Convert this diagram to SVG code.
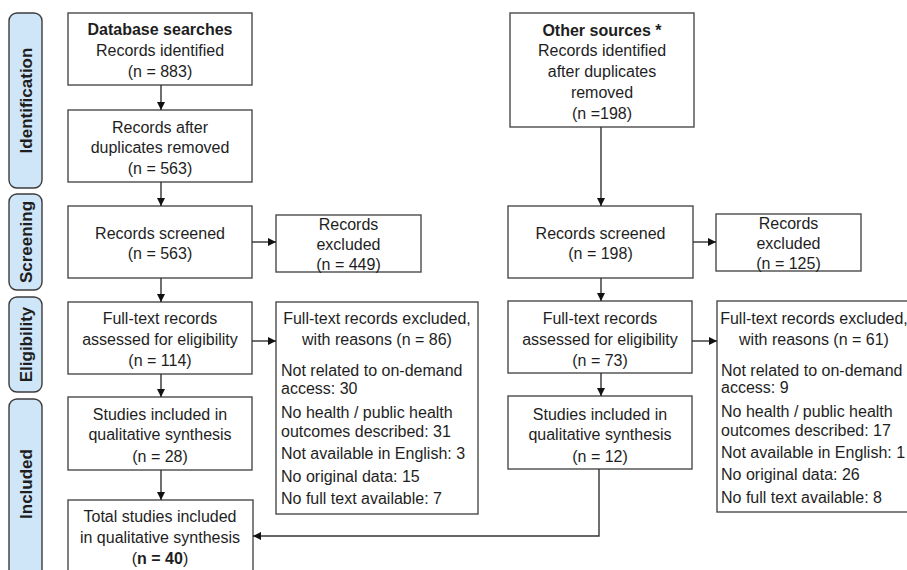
<svg xmlns="http://www.w3.org/2000/svg" width="907" height="570" viewBox="0 0 907 570">
<defs>
<style>
.bg{fill:#ffffff}
.box{fill:#ffffff;stroke:#4a4a4a;stroke-width:1.4}
.side{fill:#cfe5f8;stroke:#3c3c3c;stroke-width:1.4}
.t{font-family:"Liberation Sans",Arial,sans-serif;font-size:16px;fill:#1e1e1e;text-anchor:middle}
.l{font-family:"Liberation Sans",Arial,sans-serif;font-size:16px;fill:#1e1e1e;text-anchor:start}
.b{font-weight:bold}
.st{font-family:"Liberation Sans",Arial,sans-serif;font-size:17px;font-weight:bold;fill:#1e1e1e;text-anchor:middle}
.c{fill:none;stroke:#333;stroke-width:1.4}
</style>
<marker id="ah" viewBox="0 0 10 10" refX="10" refY="5" markerWidth="8" markerHeight="8" markerUnits="userSpaceOnUse" orient="auto">
<path d="M0,0 L10,5 L0,10 z" fill="#111"/>
</marker>
</defs>
<rect class="bg" x="0" y="0" width="907" height="570"/>

<g id="phase-identification"><rect class="side" x="9" y="13" width="33" height="175" rx="8"/><text class="st" transform="translate(32,100.5) rotate(-90)">Identification</text></g>
<g id="phase-screening"><rect class="side" x="9" y="194" width="33" height="96" rx="8"/><text class="st" transform="translate(32,242) rotate(-90)">Screening</text></g>
<g id="phase-eligibility"><rect class="side" x="9" y="297" width="33" height="95" rx="8"/><text class="st" transform="translate(32,344.5) rotate(-90)">Eligibility</text></g>
<g id="phase-included"><rect class="side" x="9" y="399" width="33" height="190" rx="8"/><text class="st" transform="translate(32,484) rotate(-90)">Included</text></g>

<g id="db-search"><rect class="box" x="68" y="13" width="184" height="72"/>
<text class="t b" x="160" y="35">Database searches</text><text class="t" x="160" y="56">Records identified</text><text class="t" x="160" y="77">(n = 883)</text></g>
<g id="db-dedup"><rect class="box" x="68" y="110" width="184" height="72"/>
<text class="t" x="160" y="133">Records after</text><text class="t" x="160" y="153">duplicates removed</text><text class="t" x="160" y="174">(n = 563)</text></g>
<g id="db-screened"><rect class="box" x="68" y="206" width="184" height="72"/>
<text class="t" x="160" y="239">Records screened</text><text class="t" x="160" y="259">(n = 563)</text></g>
<g id="db-excluded"><rect class="box" x="276" y="215" width="145" height="57"/>
<text class="t" x="348.5" y="230">Records</text><text class="t" x="348.5" y="250">excluded</text><text class="t" x="348.5" y="270">(n = 449)</text></g>
<g id="db-eligibility"><rect class="box" x="68" y="302" width="184" height="72"/>
<text class="t" x="160" y="324">Full-text records</text><text class="t" x="160" y="345">assessed for eligibility</text><text class="t" x="160" y="366">(n = 114)</text></g>
<g id="db-fulltext-excluded"><rect class="box" x="276" y="302" width="202" height="212"/>
<text class="t" x="377" y="324">Full-text records excluded,</text><text class="t" x="377" y="345">with reasons (n = 86)</text>
<text class="l" x="281" y="376">Not related to on-demand</text><text class="l" x="281" y="394">access: 30</text>
<text class="l" x="281" y="418">No health / public health</text><text class="l" x="281" y="437">outcomes described: 31</text>
<text class="l" x="281" y="459">Not available in English: 3</text><text class="l" x="281" y="482">No original data: 15</text><text class="l" x="281" y="504">No full text available: 7</text></g>
<g id="db-included"><rect class="box" x="68" y="397" width="184" height="73"/>
<text class="t" x="160" y="420">Studies included in</text><text class="t" x="160" y="440">qualitative synthesis</text><text class="t" x="160" y="462">(n = 28)</text></g>
<g id="total-included"><rect class="box" x="68" y="500" width="185" height="90"/>
<text class="t" x="160" y="522">Total studies included</text><text class="t" x="160" y="543">in qualitative synthesis</text><text class="t" x="160" y="564">(<tspan class="b">n = 40</tspan>)</text></g>

<g id="other-sources"><rect class="box" x="510" y="13" width="184" height="114"/>
<text class="t b" x="602" y="36">Other sources *</text><text class="t" x="602" y="56">Records identified</text><text class="t" x="602" y="77">after duplicates</text><text class="t" x="602" y="98">removed</text><text class="t" x="602" y="119">(n =198)</text></g>
<g id="os-screened"><rect class="box" x="508" y="206" width="185" height="72"/>
<text class="t" x="600.5" y="239">Records screened</text><text class="t" x="600.5" y="259">(n = 198)</text></g>
<g id="os-excluded"><rect class="box" x="716" y="214" width="145" height="57"/>
<text class="t" x="788.5" y="229">Records</text><text class="t" x="788.5" y="249">excluded</text><text class="t" x="788.5" y="269">(n = 125)</text></g>
<g id="os-eligibility"><rect class="box" x="508" y="301" width="184" height="72"/>
<text class="t" x="600" y="324">Full-text records</text><text class="t" x="600" y="345">assessed for eligibility</text><text class="t" x="600" y="366">(n = 73)</text></g>
<g id="os-fulltext-excluded"><rect class="box" x="717" y="301" width="196" height="211"/>
<text class="t" x="814" y="324">Full-text records excluded,</text><text class="t" x="814" y="345">with reasons (n = 61)</text>
<text class="l" x="721" y="376">Not related to on-demand</text><text class="l" x="721" y="393">access: 9</text>
<text class="l" x="721" y="417">No health / public health</text><text class="l" x="721" y="436">outcomes described: 17</text>
<text class="l" x="721" y="458">Not available in English: 1</text><text class="l" x="721" y="480">No original data: 26</text><text class="l" x="721" y="503">No full text available: 8</text></g>
<g id="os-included"><rect class="box" x="508" y="396" width="184" height="73"/>
<text class="t" x="600" y="420">Studies included in</text><text class="t" x="600" y="440">qualitative synthesis</text><text class="t" x="600" y="462">(n = 12)</text></g>

<g id="connectors">
<line class="c" x1="161" y1="85" x2="161" y2="110" marker-end="url(#ah)"/>
<line class="c" x1="161" y1="182" x2="161" y2="206" marker-end="url(#ah)"/>
<line class="c" x1="161" y1="278" x2="161" y2="302" marker-end="url(#ah)"/>
<line class="c" x1="161" y1="374" x2="161" y2="397" marker-end="url(#ah)"/>
<line class="c" x1="161" y1="470" x2="161" y2="500" marker-end="url(#ah)"/>
<line class="c" x1="252" y1="242" x2="276" y2="242" marker-end="url(#ah)"/>
<line class="c" x1="252" y1="341" x2="276" y2="341" marker-end="url(#ah)"/>
<line class="c" x1="601" y1="127" x2="601" y2="206" marker-end="url(#ah)"/>
<line class="c" x1="601" y1="278" x2="601" y2="301" marker-end="url(#ah)"/>
<line class="c" x1="601" y1="373" x2="601" y2="396" marker-end="url(#ah)"/>
<line class="c" x1="693" y1="242" x2="716" y2="242" marker-end="url(#ah)"/>
<line class="c" x1="692" y1="341" x2="717" y2="341" marker-end="url(#ah)"/>
<polyline class="c" points="599,469 599,536 253,536" marker-end="url(#ah)"/>
</g>
</svg>
